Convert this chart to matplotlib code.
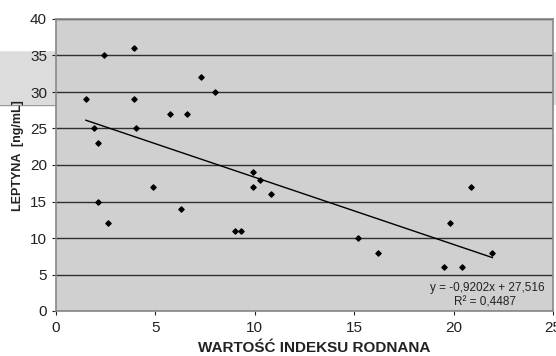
import matplotlib.pyplot as plt
import matplotlib.patches as mpatches
import numpy as np

plt.rcParams['font.family'] = ['Liberation Sans', 'DejaVu Sans']

# data
index_rodnana = [1.5, 1.9, 2.1, 2.4, 3.9, 3.9, 4.0, 5.75, 6.6, 7.3, 8.0, 9.9, 10.25,
                 2.1, 2.6, 4.9, 6.3, 9.0, 9.3, 9.9, 10.8,
                 15.2, 16.2, 20.9, 19.8, 19.5, 20.4, 21.95]
leptyna = [29, 25, 23, 35, 36, 29, 25, 27, 27, 32, 30, 19, 18,
           15, 12, 17, 14, 11, 11, 17, 16,
           10, 8, 17, 12, 6, 6, 8]
slope = -0.9202
intercept = 27.516
r2 = 0.4487

fig = plt.figure(figsize=(5.56, 3.56), dpi=100)
ax = fig.add_axes([56 / 556, 45 / 356, 497 / 556, 292 / 356])
ax.set_zorder(2)

# scan artifacts (grey strips at the edges)
fig.patches.append(mpatches.Rectangle((0, 1 - 105 / 356), 56 / 556, 53 / 356,
                                      transform=fig.transFigure, facecolor='#dcdcdc',
                                      edgecolor='none', zorder=0))
fig.lines.append(plt.Line2D([0, 56 / 556], [1 - 52 / 356] * 2, transform=fig.transFigure,
                            color='#777777', lw=1, zorder=0))
fig.lines.append(plt.Line2D([0, 56 / 556], [1 - 105 / 356] * 2, transform=fig.transFigure,
                            color='#999999', lw=1, zorder=0))
fig.patches.append(mpatches.Rectangle((553 / 556, 1 - 105 / 356), 3 / 556, 53 / 356,
                                      transform=fig.transFigure, facecolor='#dcdcdc',
                                      edgecolor='none', zorder=0))

ax.set_facecolor('#d0d0d0')
ax.set_xlim(0, 25)
ax.set_ylim(0, 40)
ax.set_xticks(np.arange(0, 26, 5))
ax.set_yticks(np.arange(0, 41, 5))
ax.yaxis.grid(True, color='#303030', lw=1)
ax.set_axisbelow(True)
for s in ax.spines.values():
    s.set_color('#888888')
    s.set_linewidth(1.2)
ax.tick_params(labelsize=11, colors='#222222', length=3, width=0.8)
ax.tick_params(axis='x', pad=4)

ax.scatter(index_rodnana, leptyna, marker='D', s=7, color='black', zorder=3)

xs = np.array([min(index_rodnana), max(index_rodnana)])
ax.plot(xs, slope * xs + intercept, color='black', lw=1, zorder=2)

ax.text(24.6, 3.15, 'y = -0,9202x + 27,516', fontsize=8.5, ha='right', va='center', color='#222222')
ax.text(21.6, 1.1, 'R² = 0,4487', fontsize=8.5, ha='center', va='center', color='#222222')

fig.text(314 / 556, 1 - 348 / 356, 'WARTOŚĆ INDEKSU RODNANA', fontsize=11, fontweight='bold',
         ha='center', va='center', color='#222222')
fig.text(18 / 556, 1 - 156 / 356, 'LEPTYNA  [ng/mL]', fontsize=9, fontweight='bold',
         rotation=90, ha='center', va='center', color='#222222')

plt.savefig('out.png', dpi=100)
